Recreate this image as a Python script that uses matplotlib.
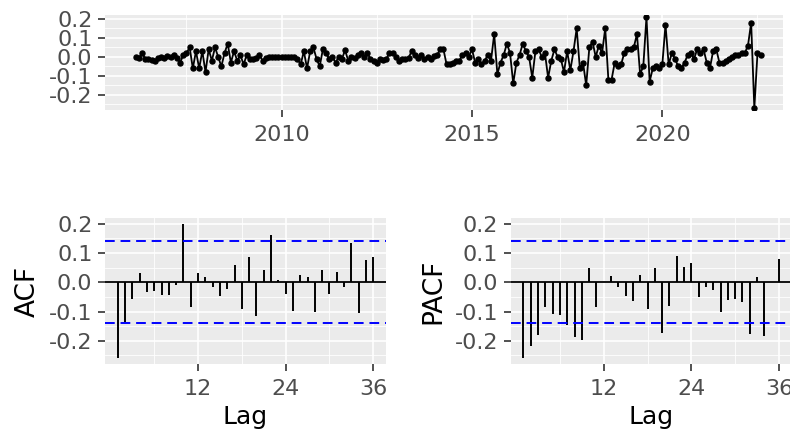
import matplotlib
matplotlib.use("Agg")
import matplotlib.pyplot as plt
import numpy as np

# Monthly differenced series, March 2006 .. August 2022
start_year = 2006
start_month = 3
series = [
    0.0, -0.005, 0.02, -0.01, -0.01, -0.015, -0.02, -0.005, 0.0, -0.005,
    0.005, 0.0, 0.01, -0.005, -0.03, 0.01, 0.02, 0.05, -0.06, 0.03,
    -0.06, 0.03, -0.08, 0.04, -0.02, 0.05, 0.0, -0.05, 0.02, 0.07,
    -0.03, 0.03, -0.02, 0.01, -0.04, 0.01, -0.01, -0.01, -0.005, 0.01,
    -0.02, -0.005, 0.0, -0.003, 0.002, 0.0, -0.002, 0.0, 0.001, -0.002,
    0.0, -0.01, -0.04, 0.03, -0.06, 0.03, 0.05, -0.01, -0.05, 0.04,
    0.02, -0.01, 0.0, -0.03, 0.0, -0.01, 0.035, -0.02, 0.0, -0.005,
    0.01, 0.02, 0.0, 0.02, -0.01, -0.02, -0.03, -0.01, -0.015, -0.01,
    0.02, 0.02, 0.0, -0.02, -0.01, -0.01, -0.005, 0.03, 0.01, -0.005,
    0.01, -0.01, 0.0, -0.01, 0.005, 0.01, 0.04, 0.04, -0.04, -0.04,
    -0.03, -0.02, -0.02, 0.01, 0.02, 0.0, 0.04, -0.03, -0.01, -0.04,
    -0.02, 0.01, -0.02, 0.12, -0.09, -0.03, 0.01, 0.07, 0.02, -0.14,
    -0.03, 0.01, 0.07, 0.03, 0.0, -0.11, 0.03, 0.04, 0.0, 0.02,
    -0.11, -0.02, 0.04, 0.0, -0.01, -0.08, 0.03, -0.07, 0.03, 0.15,
    -0.06, -0.03, -0.15, 0.05, 0.08, 0.0, 0.06, 0.02, 0.15, -0.12,
    -0.12, -0.03, -0.05, -0.04, 0.02, 0.04, 0.04, 0.05, 0.12, -0.09,
    -0.05, 0.21, -0.13, -0.06, -0.05, -0.06, -0.04, 0.17, -0.04, 0.02,
    -0.01, -0.05, -0.06, -0.03, 0.01, 0.02, -0.01, 0.04, 0.02, 0.04,
    -0.03, -0.06, 0.03, 0.04, -0.03, -0.03, -0.02, -0.01, 0.0, 0.01,
    0.01, 0.02, 0.02, 0.06, 0.18, -0.27, 0.02, 0.01,
]

acf_vals = [
    -0.259, -0.137, -0.058, 0.033, -0.032, -0.030, -0.043, -0.043, -0.009, 0.198,
    -0.083, 0.033, 0.017, -0.015, -0.047, -0.024, 0.057, -0.093, 0.085, -0.115,
    0.040, 0.162, 0.008, -0.039, -0.097, 0.024, 0.017, -0.101, 0.042, -0.040,
    0.036, -0.018, 0.133, -0.105, 0.075, 0.085,
]
pacf_vals = [
    -0.259, -0.219, -0.180, -0.086, -0.108, -0.112, -0.145, -0.188, -0.198, 0.047,
    -0.083, 0.001, 0.022, -0.015, -0.047, -0.064, 0.025, -0.090, 0.050, -0.172,
    -0.081, 0.088, 0.053, 0.065, -0.050, -0.015, -0.028, -0.100, -0.060, -0.057,
    -0.066, -0.176, 0.017, -0.183, 0.001, 0.078,
]

yticks = [-0.2, -0.1, 0.0, 0.1, 0.2]
ytick_labels = ["-0.2", "-0.1", "0.0", "0.1", "0.2"]
lag_ticks = [12, 24, 36]
year_ticks = [2010, 2015, 2020]

bg = "#EBEBEB"
tick_gray = "#4D4D4D"
plt.rcParams["font.family"] = "DejaVu Sans"


def gg_style(ax):
    ax.set_facecolor(bg)
    for s in ax.spines.values():
        s.set_visible(False)
    ax.grid(which="major", color="white", linewidth=1.2)
    ax.grid(which="minor", color="white", linewidth=0.6)
    ax.set_axisbelow(True)
    ax.tick_params(which="major", length=5, width=1.2, color="#333333",
                   labelcolor=tick_gray, labelsize=16, pad=4)
    ax.tick_params(which="minor", length=0)
    ax.set_yticks(yticks)
    ax.set_yticklabels(ytick_labels)
    ax.set_yticks([-0.25, -0.15, -0.05, 0.05, 0.15], minor=True)


fig = plt.figure(figsize=(7.9, 4.42), dpi=100)

# top: time series
ax = fig.add_axes([105 / 790, 1 - 110 / 442, 678 / 790, 95 / 442])
gg_style(ax)
t = start_year + (start_month - 1) / 12 + np.arange(len(series)) / 12
ax.plot(t, series, color="black", linewidth=1.3)
ax.scatter(t, series, color="black", s=13, zorder=3)
ax.set_xlim(2005.36, 2023.17)
ax.set_ylim(-0.28, 0.221)
ax.set_xticks(year_ticks)
ax.set_xticks([2007.5, 2012.5, 2017.5, 2022.5], minor=True)
ax.tick_params(axis="x", pad=6)


def corr_panel(left, vals, label):
    a = fig.add_axes([left / 790, 1 - 364 / 442, 281 / 790, 146 / 442])
    gg_style(a)
    lags = np.arange(1, len(vals) + 1)
    a.vlines(lags, 0, vals, color="black", linewidth=1.4)
    a.axhline(0, color="black", linewidth=1.3)
    ci = 1.96 / np.sqrt(len(series))
    for c in (ci, -ci):
        a.axhline(c, color="blue", linewidth=1.4, linestyle=(0, (5, 3)))
    a.set_xlim(-0.75, 37.75)
    a.set_ylim(-0.279, 0.219)
    a.set_xticks(lag_ticks)
    a.set_xticks([6, 18, 30], minor=True)
    a.tick_params(axis="x", pad=6)
    a.set_xlabel("Lag", fontsize=18, labelpad=4)
    a.set_ylabel(label, fontsize=19, labelpad=6)
    return a


corr_panel(105, acf_vals, "ACF")
corr_panel(510.7, pacf_vals, "PACF")

fig.savefig("out.png", dpi=100)
